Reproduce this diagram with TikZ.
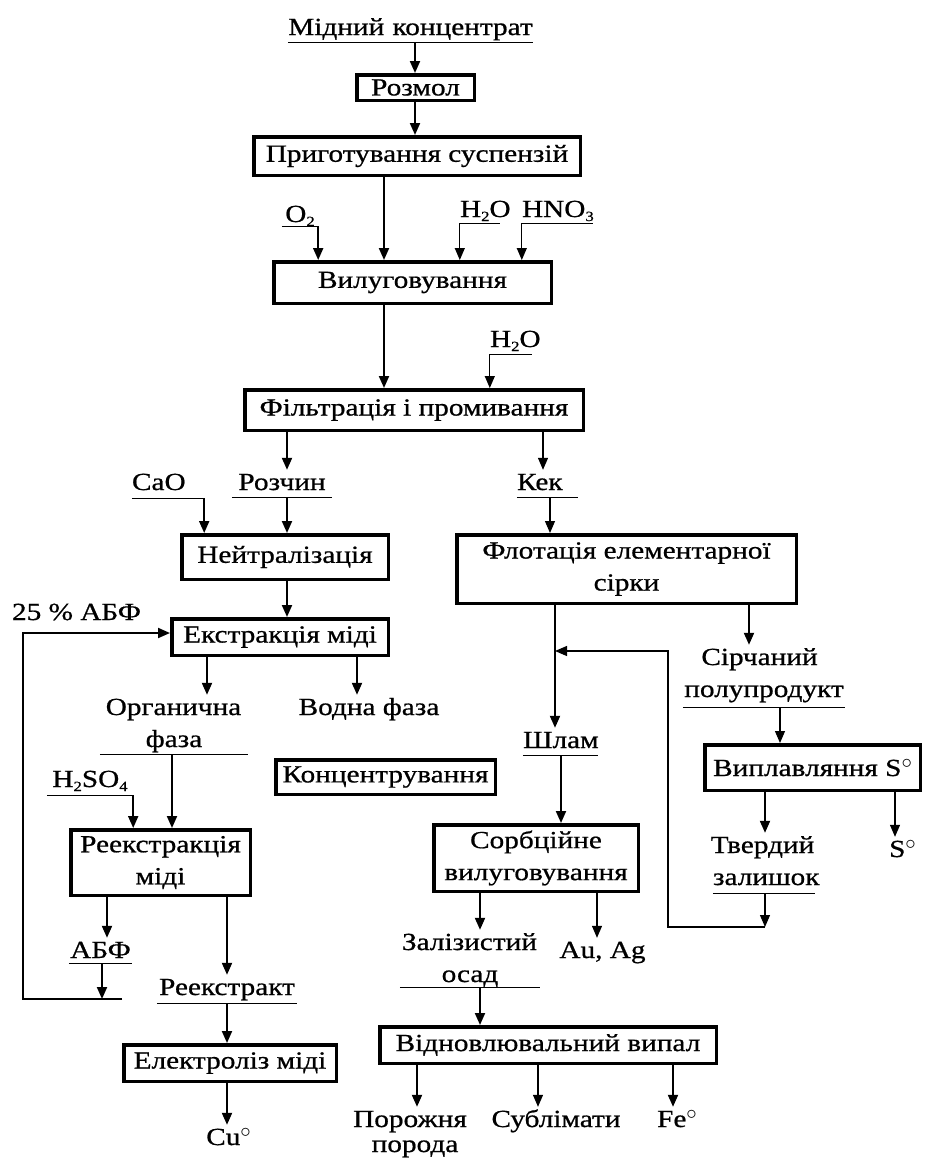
\documentclass[tikz,border=0pt]{standalone}
\usepackage{fontspec}
\setmainfont{Liberation Serif}[FakeStretch=1.19,FakeBold=0.7]
\usetikzlibrary{arrows.meta}
\newcommand\dgr{\raisebox{8pt}{\fontsize{20}{20}\selectfont$\circ$}}
\newcommand\sbs[1]{\raisebox{-4pt}{\fontsize{14}{14}\selectfont #1}}
\begin{document}
\begin{tikzpicture}[x=1pt,y=-1pt,
  every node/.style={font=\fontsize{24.6}{32}\selectfont, inner sep=0pt},
  box/.style={draw, line width=3.5pt, align=center},
  lab/.style={anchor=base, text height=20pt},
  ulab/.style={anchor=base, text height=20pt, align=center},
  uline/.style={line width=1.3pt},
  arr/.style={line width=2pt, -{Triangle[length=12pt,width=10pt]}},
  tarr/.style={line width=1.2pt, -{Triangle[length=12pt,width=10pt]}},
]
\fill[white] (0,0) rectangle (926,1160);
\useasboundingbox (0,0) rectangle (926,1160);

% boxes
\node[box, minimum width=117.5pt, minimum height=25.5pt] (rozmol) at (415.5,87.5) {Розмол};
\node[box, minimum width=326.5pt, minimum height=38.5pt] (prig) at (417,156) {Приготування суспензій};
\node[box, minimum width=277.5pt, minimum height=41.5pt] (vyl) at (412.5,282.5) {Вилуговування};
\node[box, minimum width=338.5pt, minimum height=40.5pt] (filt) at (414,410) {Фільтрація і промивання};
\node[box, minimum width=206.5pt, minimum height=44.5pt] (neitr) at (285,557) {Нейтралізація};
\node[box, minimum width=216.5pt, minimum height=36.5pt] (ekstr) at (280,637) {Екстракція міді};
\node[box, minimum width=339.5pt, minimum height=68.5pt] (flot) at (626.5,569) {Флотація елементарної\\сірки};
\node[box, minimum width=219.5pt, minimum height=34.5pt] (konc) at (385.5,777) {Концентрування};
\node[box, minimum width=179.5pt, minimum height=65.5pt] (reekstr) at (160.5,862.5) {Реекстракція\\міді};
\node[box, minimum width=204.5pt, minimum height=66.5pt] (sorb) at (536,858) {Сорбційне\\вилуговування};
\node[box, minimum width=215.5pt, minimum height=45.5pt] (vypl) at (812.5,767.5) {Виплавляння S\dgr};
\node[box, minimum width=212.5pt, minimum height=36.5pt] (elektr) at (230,1063) {Електроліз міді};
\node[box, minimum width=336.5pt, minimum height=36.5pt] (vidn) at (548,1045) {Відновлювальний випал};

% labels
\node[ulab, text width=245pt, text depth=7pt] (mk) at (410.5,35) {Мідний концентрат};
\node[ulab, text width=36pt, text depth=4pt] (o2) at (300,222) {O\sbs{2}};
\node[ulab, text width=40pt, text depth=6pt] (h2oA) at (480,217) {H\sbs{2}O};
\node[ulab, text width=71pt, text depth=6pt] (hno3) at (557.5,217) {HNO\sbs{3}};
\node[ulab, text width=42pt, text depth=7pt] (h2oB) at (511,347) {H\sbs{2}O};
\node[ulab, text width=100pt, text depth=7pt] (rozchin) at (282,490) {Розчин};
\node[ulab, text width=72pt, text depth=8pt, align=left] (cao) at (168,490) {CaO};
\node[ulab, text width=61pt, text depth=7pt, align=left] (kek) at (547.5,490) {Кек};
\node[lab] (abf25) at (76.5,620) {25 \% АБФ};
\node[lab] (org1) at (173.5,715) {Органична};
\node[ulab, text width=148pt, text depth=7pt] (org2) at (174,747) {фаза};
\node[lab] (vodna) at (369,715) {Водна фаза};
\node[ulab, text width=86pt, text depth=8pt] (h2so4) at (90,787) {H\sbs{2}SO\sbs{4}};
\node[ulab, text width=63pt, text depth=5pt] (abf) at (100.5,958) {АБФ};
\node[ulab, text width=140pt, text depth=8pt] (reekstrakt) at (227,995) {Реекстракт};
\node[lab] (cu) at (228.5,1145) {Cu\dgr};
\node[lab] (sirch1) at (759.5,665) {Сірчаний};
\node[ulab, text width=162pt, text depth=10pt] (sirch2) at (764,697) {полупродукт};
\node[ulab, text width=75pt, text depth=7pt] (shlam) at (560.5,748) {Шлам};
\node[lab] (tverd1) at (762.5,853) {Твердий};
\node[ulab, text width=102pt, text depth=8pt] (tverd2) at (764,885) {залишок};
\node[lab] (s0) at (902.5,857) {S\dgr};
\node[lab] (zal1) at (469.5,950) {Залізистий};
\node[ulab, text width=140pt, text depth=5pt] (zal2) at (470,982) {осад};
\node[lab] (auag) at (602.5,958) {Au, Ag};
\node[lab] (por1) at (410,1127) {Порожня};
\node[lab] (por2) at (415,1152) {порода};
\node[lab] (subl) at (556,1127) {Сублімати};
\node[lab] (fe) at (677,1127) {Fe\dgr};

\foreach \n in {mk,o2,h2oA,hno3,h2oB,rozchin,cao,kek,org2,h2so4,abf,reekstrakt,sirch2,shlam,tverd2,zal2}
  \draw[uline] (\n.south west) -- (\n.south east);

% x positions of connectors
\foreach \c in {415,384,287,543,550,207,357,172,107,102,227,555,749,780,765,895,561,480,597,417,538,673}
  \coordinate (c\c) at (\c,0);
\coordinate (fbL) at (23,999);
\coordinate (fbR) at (122,999);
\coordinate (fbB) at (765,927);
\coordinate (fbT) at (668,651);

% connectors
\draw[arr] (mk.south -| c415) -- (rozmol.north -| c415);
\draw[arr] (rozmol.south -| c415) -- (prig.north -| c415);
\draw[arr] (prig.south -| c384) -- (vyl.north -| c384);
\draw[arr] (o2.south east) -- (o2.south east |- vyl.north);
\draw[tarr] (h2oA.south west) -- (h2oA.south west |- vyl.north);
\draw[tarr] (hno3.south west) -- (hno3.south west |- vyl.north);
\draw[arr] (vyl.south -| c384) -- (filt.north -| c384);
\draw[tarr] (h2oB.south west) -- (h2oB.south west |- filt.north);
\draw[arr] (filt.south -| c287) -- (rozchin.north -| c287);
\draw[tarr] (filt.south -| c543) -- (kek.north -| c543);
\draw[arr] (rozchin.south -| c287) -- (neitr.north -| c287);
\draw[arr] (cao.south east) -- (cao.south east |- neitr.north);
\draw[tarr] (kek.south -| c550) -- (flot.north -| c550);
\draw[arr] (neitr.south -| c287) -- (ekstr.north -| c287);
\draw[arr] (ekstr.south -| c207) -- (org1.north -| c207);
\draw[arr] (ekstr.south -| c357) -- (vodna.north -| c357);
\draw[arr] (org2.south -| c172) -- (reekstr.north -| c172);
\draw[arr] (h2so4.south east) -- (h2so4.south east |- reekstr.north);
\draw[arr] (reekstr.south -| c107) -- (abf.north -| c107);
\draw[arr] (reekstr.south -| c227) -- (reekstrakt.north -| c227);
\draw[arr] (abf.south -| c102) -- (fbR -| c102);
\draw[arr] (fbR) -- (fbL) |- ([yshift=4pt]ekstr.west);
\draw[arr] (reekstrakt.south -| c227) -- (elektr.north -| c227);
\draw[arr] (elektr.south -| c227) -- (cu.north -| c227);

\draw[arr] (flot.south -| c555) -- (shlam.north -| c555);
\draw[arr] (flot.south -| c749) -- (sirch1.north -| c749);
\draw[tarr] (sirch2.south -| c780) -- (vypl.north -| c780);
\draw[arr] (vypl.south -| c765) -- (tverd1.north -| c765);
\draw[tarr] (vypl.south -| c895) -- (s0.north -| c895);
\draw[tarr] (tverd2.south -| c765) -- (fbB);
\draw[tarr] (fbB) -| (fbT) -- (fbT -| c555);
\draw[arr] (shlam.south -| c561) -- (sorb.north -| c561);
\draw[arr] (sorb.south -| c480) -- (zal1.north -| c480);
\draw[tarr] (sorb.south -| c597) -- (auag.north -| c597);
\draw[arr] (zal2.south -| c480) -- (vidn.north -| c480);
\draw[arr] (vidn.south -| c417) -- (por1.north -| c417);
\draw[tarr] (vidn.south -| c538) -- (subl.north -| c538);
\draw[arr] (vidn.south -| c673) -- (fe.north -| c673);
\end{tikzpicture}
\end{document}
